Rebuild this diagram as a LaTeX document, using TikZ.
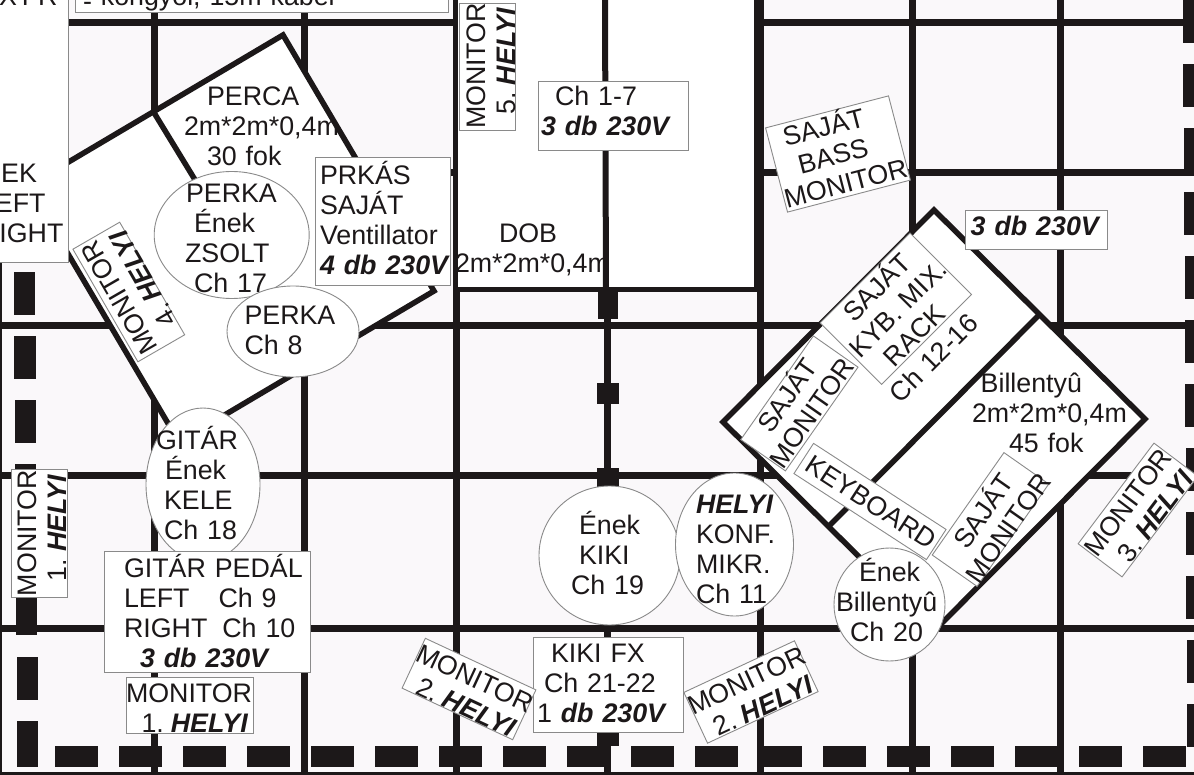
\documentclass[tikz,border=0pt]{standalone}
\usepackage{fontspec}
\setmainfont{Liberation Sans}
\usetikzlibrary{shapes.geometric}
\definecolor{ink}{HTML}{1C1819}
\definecolor{paper}{HTML}{FAF8FA}
\definecolor{edge}{HTML}{8A8A8A}
\newcommand{\lineat}[2]{\leavevmode\rlap{\hspace*{#1pt}#2}}
\newcommand{\bisl}[1]{{\bfseries\itshape #1}}
\newcommand{\numhely}[1]{#1.\hspace{7pt}\bisl{HELYI}}
\tikzset{
  bl/.code={\pgfmathsetmacro\bla{max(#1,0)*2}\pgfmathsetmacro\blb{max(-(#1),0)*2}\tikzset{text height=\bla pt,text depth=\blb pt}},
  lab/.style={font=\fontsize{26.8}{30}\selectfont,text=ink,text width=2pt,align=left,inner sep=0pt,outer sep=0pt},
  boxn/.style={lab,rectangle,draw=edge,line width=0.9pt,fill=white},
  ell/.style={lab,ellipse,draw=edge,line width=0.9pt,fill=white},
  free/.style={lab},
  grid/.style={draw=ink,line width=7pt},
  riser/.style={draw=ink,line width=5.5pt,fill=white,line join=miter},
  rib/.style={draw=ink,line width=5.5pt},
  dashbar/.style={fill=ink,draw=none}
}
\begin{document}
\begin{tikzpicture}[x=1pt,y=-1pt]
\useasboundingbox (0,0) rectangle (1194,775);
\fill[paper] (0,0) rectangle (1194,775);
% grid
\foreach \yy in {23,172.5,325.5,475.5,628.5} \draw[grid] (0,\yy) -- (1194,\yy);
\foreach \xx in {154,304,456,607,760,912,1060} \draw[grid] (\xx,0) -- (\xx,775);
\draw[draw=ink,line width=3pt] (0,773.5) -- (1194,773.5);
\draw[draw=ink,line width=3pt] (0.5,0) -- (0.5,775);
% dashed frame
\foreach \xx in {55,119,183,247,311,375,439,503,567,631,695,759,823,887,951,1015,1079,1143}
  \fill[dashbar] (\xx,746) rectangle ++(43,21);
\foreach \yy/\xa/\xb in {272/13.5/35,336/14/35.5,400/15/36,464/15/36,592/16/37,657/17/37.5}
  \fill[dashbar] (\xa,\yy) rectangle (\xb,\yy+43);
\fill[dashbar] (17,721) rectangle (38,767);
\foreach \yy in {0,64,128,192,256,320,384,448,512,576,640,704}
  \fill[dashbar] (1183+\yy/170,\yy) rectangle (1194,\yy+43);
% drum riser
\fill[white] (458,0) rectangle (754,287);
\draw[ink,line width=5pt] (456,289.5) -- (758,289.5);
\draw[ink,line width=9pt] (758,0) -- (758,292);
\draw[ink,line width=6pt] (605,0) -- (606,292);
\foreach \xa/\ya/\xb/\yb in {598/291/618/319,597/383/619/404,597/468/619/492,597/732/619/746}
  \fill[dashbar] (\xa,\ya) rectangle (\xb,\yb);
% percussion riser
\draw[riser] (283,35) -- (434,291) -- (179,442) -- (28,186) -- cycle;
\draw[rib] (153,111) -- (200,188);
% keyboard riser
\draw[riser] (934,210) -- (1145,419) -- (934,631) -- (723,422) -- cycle;
\draw[rib] (1039,315) -- (830,525);
% top left
\node[boxn,minimum width=113pt,minimum height=264pt,bl=53] (tl) at (11.5,130) {\lineat{-46.5}{ÉNEK}\\\lineat{-30.5}{LEFT}\\\lineat{-30.5}{RIGHT}};
\node[free,bl=0] (xfr) at (25,6) {\lineat{-25}{X\hspace{5pt}FR}};
\node[boxn,minimum width=372.5pt,minimum height=14.5pt,bl=0.75] (topb) at (261.75,5.25) {\lineat{-177.75}{\raisebox{-5pt}{-} köngyöl, 15m kábel}};
% monitors and boxes
\node[boxn,minimum width=127pt,minimum height=56.5pt,rotate=90,bl=-2.5] (m5) at (487.5,66.5) {\lineat{-61.5}{MONITOR}\\\lineat{-47}{\numhely{5}}};
\node[boxn,minimum width=150pt,minimum height=69pt,bl=-9.7] (ch17) at (613.3,115.7) {\lineat{-57.3}{Ch 1-7}\\\lineat{-71.3}{\bisl{3 db 230V}}};
\node[free,bl=-15] (dob) at (530,258) {\lineat{-30}{DOB}\\\lineat{-74}{2m*2m*0,4m}};
\node[boxn,minimum width=127pt,minimum height=87pt,rotate=14.6,bl=-20] (bass) at (838,154) {\lineat{-48}{SAJÁT}\\\lineat{-40}{BASS}\\\lineat{-62}{MONITOR}};
\node[boxn,minimum width=142pt,minimum height=38.6pt,bl=5.7] (v3) at (1036,230) {\lineat{-64.3}{\bisl{3 db 230V}}};
\node[free,bl=-29] (perca) at (260,135) {\lineat{-52}{PERCA}\\\lineat{-75}{2m*2m*0,4m}\\\lineat{-52}{30 fok}};
\node[boxn,minimum width=130pt,minimum height=54pt,rotate=120,bl=-2] (m4) at (128.8,292) {\lineat{-62}{MONITOR}\\\lineat{-48}{\numhely{4}}};
\node[ell,minimum width=155pt,minimum height=127pt,bl=-32] (e17) at (231.7,235) {\lineat{-44.7}{PERKA}\\\lineat{-36.7}{Ének}\\\lineat{-45.7}{ZSOLT}\\\lineat{-36.7}{Ch 17}};
\node[boxn,minimum width=134.3pt,minimum height=128pt,bl=-36.7] (prk) at (382.8,221.7) {\lineat{-61.8}{PRKÁS}\\\lineat{-61.8}{SAJÁT}\\\lineat{-61.8}{Ventillator}\\\lineat{-61.8}{\bisl{4 db 230V}}};
\node[ell,minimum width=132pt,minimum height=91pt,bl=-6.5] (e8) at (293,331.5) {\lineat{-47.5}{PERKA}\\\lineat{-47.5}{Ch 8}};
\node[ell,minimum width=114pt,minimum height=153pt,bl=-35.5] (e18) at (203,484.5) {\lineat{-46}{GITÁR}\\\lineat{-37}{Ének}\\\lineat{-38}{KELE}\\\lineat{-38}{Ch 18}};
\node[boxn,minimum width=206pt,minimum height=121pt,bl=-34.5] (ped) at (207,611.5) {\lineat{-82}{GITÁR PEDÁL}\\\lineat{-82}{LEFT\hspace{29pt}Ch 9}\\\lineat{-82}{RIGHT\hspace{15pt}Ch 10}\\\lineat{-66}{\bisl{3 db 230V}}};
\node[boxn,minimum width=127pt,minimum height=56pt,bl=-3] (m1b) at (189.5,705) {\lineat{-62.5}{MONITOR}\\\lineat{-47}{\numhely{1}}};
\node[boxn,minimum width=128pt,minimum height=56pt,rotate=90,bl=-2.3] (m1a) at (39,533) {\lineat{-62}{MONITOR}\\\lineat{-47}{\numhely{1}}};
\node[ell,minimum width=141pt,minimum height=139pt,bl=-21] (e19) at (609.5,555.5) {\lineat{-29.5}{Ének}\\\lineat{-29.5}{KIKI}\\\lineat{-37.5}{Ch 19}};
\node[ell,minimum width=118pt,minimum height=143pt,bl=-31.5] (e11) at (734.5,544.5) {\lineat{-37.5}{\bisl{HELYI}}\\\lineat{-37.5}{KONF.}\\\lineat{-37.5}{MIKR.}\\\lineat{-37.5}{Ch 11}};
\node[boxn,minimum width=150pt,minimum height=95pt,bl=-22.5] (fx) at (608,684.5) {\lineat{-56}{KIKI FX}\\\lineat{-63}{Ch 21-22}\\\lineat{-70}{1 \bisl{db 230V}}};
\node[boxn,minimum width=122pt,minimum height=55pt,rotate=-25,bl=-3] (m2l) at (469,689) {\lineat{-61}{MONITOR}\\\lineat{-47}{\numhely{2}}};
\node[boxn,minimum width=122pt,minimum height=56pt,rotate=25,bl=-3] (m2r) at (751,692) {\lineat{-61}{MONITOR}\\\lineat{-47}{\numhely{2}}};
\node[boxn,minimum width=127pt,minimum height=87pt,rotate=45,bl=-19] (rack) at (895.8,308.7) {\lineat{-39}{SAJÁT}\\\lineat{-60}{KYB. MIX.}\\\lineat{-42}{RACK}\\\lineat{-63}{Ch 12-16}};
\node[boxn,minimum width=126.6pt,minimum height=54.5pt,rotate=55,bl=-5] (smon) at (799.4,403.4) {\lineat{-41}{SAJÁT}\\\lineat{-63}{MONITOR}};
\node[free,bl=-29.3] (bil) at (1050,422) {\lineat{-68.3}{Billentyû}\\\lineat{-77}{2m*2m*0,4m}\\\lineat{-40}{45 fok}};
\node[boxn,minimum width=158pt,minimum height=36pt,rotate=-33,bl=9] (kbd) at (870,501.5) {\lineat{-72}{KEYBOARD}};
\node[boxn,minimum width=125pt,minimum height=54.7pt,rotate=55,bl=-1] (smon2) at (990.5,519.5) {\lineat{-38}{SAJÁT}\\\lineat{-59}{MONITOR}};
\node[ell,minimum width=111pt,minimum height=113pt,bl=-23.5] (e20) at (889.5,604.5) {\lineat{-29.5}{Ének}\\\lineat{-52.5}{Billentyû}\\\lineat{-38.5}{Ch 20}};
\node[boxn,minimum width=126pt,minimum height=55pt,rotate=53,bl=-3] (m3) at (1138,510) {\lineat{-62}{MONITOR}\\\lineat{-47}{\numhely{3}}};
\end{tikzpicture}
\end{document}
